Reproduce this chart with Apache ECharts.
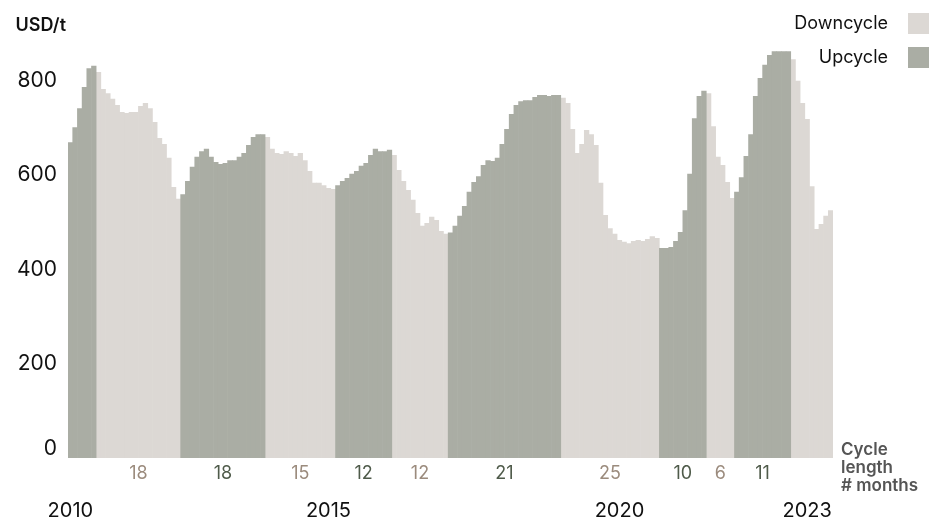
<!DOCTYPE html>
<html>
<head>
<meta charset="utf-8">
<script src="https://cdn.jsdelivr.net/npm/echarts@6/dist/echarts.min.js"></script>
<style>
html,body{margin:0;padding:0;background:#fff;}
#chart{width:944px;height:517px;}
</style>
</head>
<body>
<div id="chart"></div>
<script>
// Price per bar (USD/t)
const values = [
  669, 701, 741, 786, 826, 831,
  818, 782, 773, 761, 748, 733, 731, 733, 733, 746, 752, 741, 712, 678, 665, 636, 574, 549,
  559, 587, 617, 638, 650, 655, 638, 627, 623, 625, 631, 631, 638, 646, 663, 680, 686, 686,
  680, 655, 646, 644, 650, 646, 640, 646, 631, 608, 583, 583, 578, 572, 570,
  578, 587, 593, 602, 608, 619, 625, 642, 655, 650, 650, 653,
  642, 610, 587, 568, 547, 519, 492, 498, 511, 504, 481, 475,
  478, 492, 513, 534, 564, 585, 597, 621, 631, 629, 636, 665, 697, 729, 748, 756, 758, 758, 765, 769, 769, 767, 769, 769,
  763, 752, 697, 646, 665, 695, 686, 663, 583, 515, 487, 475, 462, 458, 455, 460, 462, 460, 464, 470, 466,
  445, 445, 447, 460, 479, 525, 602, 720, 767, 778,
  773, 703, 638, 621, 585, 551,
  564, 595, 640, 686, 767, 805, 833, 854, 862, 862, 862, 862,
  845, 799, 752, 718, 576, 485, 496, 513, 525
];
// Cycle segments
const segmentType = ['up','down','up','down','up','down','up','down','up','down','up','down'];
const segmentBars = [6, 18, 18, 15, 12, 12, 24, 21, 10, 6, 12, 9];
const cycleLabels = [null, '18', '18', '15', '12', '12', '21', '25', '10', '6', '11', null];
// Year tick labels (bar index -> label)
const yearTickIndex = [0, 55, 117, 157];
const yearTickText = ['2010', '2015', '2020', '2023'];
const yTicks = [0, 200, 400, 600, 800];

const categories = values.map((_, i) => 'P' + (i + 1));
const downData = [], upData = [];
const segStart = [];
let pos = 0;
segmentType.forEach((t, s) => {
  const n = segmentBars[s];
  segStart.push(pos);
  for (let k = 0; k < n; k++) {
    const v = values[pos + k];
    downData.push(t === 'down' ? v : null);
    upData.push(t === 'up' ? v : null);
  }
  pos += n;
});

const FONT = 'Inter, "Noto Sans", sans-serif';
const DOWN = '#dcd8d4';
const UP = '#aaada4';
const DOWN_TXT = '#9b8b7d';
const UP_TXT = '#4f5b4a';

const chart = echarts.init(document.getElementById('chart'));
const GRID = { left: 68, right: 111, top: 33.2, bottom: 59, containLabel: false, outerBoundsMode: 'none' };
const catW = (944 - GRID.left - GRID.right) / values.length;

chart.setOption({
  animation: false,
  textStyle: { fontFamily: FONT },
  grid: GRID,
  legend: {
    data: ['Downcycle', 'Upcycle'],
    orient: 'vertical',
    right: 15,
    top: 13,
    padding: 0,
    align: 'right',
    itemWidth: 21,
    itemHeight: 21,
    itemGap: 13,
    icon: 'rect',
    selectedMode: false,
    textStyle: { fontSize: 18, color: '#111', fontFamily: FONT, padding: [0, 15, 0, 0] }
  },
  xAxis: {
    type: 'category',
    data: categories,
    boundaryGap: true,
    axisLine: { show: false },
    axisTick: { show: false },
    axisLabel: {
      interval: (idx) => yearTickIndex.indexOf(idx) >= 0,
      formatter: (v, idx) => {
        const k = yearTickIndex.indexOf(idx);
        return k >= 0 ? yearTickText[k] : '';
      },
      fontSize: 20,
      color: '#111',
      margin: 43,
      fontFamily: FONT
    }
  },
  yAxis: {
    type: 'value',
    min: 0,
    max: 900,
    interval: 200,
    name: 'USD/t',
    nameLocation: 'end',
    nameGap: 8,
    nameTextStyle: { fontSize: 18, fontWeight: 600, color: '#111', align: 'right', verticalAlign: 'middle', padding: [0, 2, 0, 0], fontFamily: FONT },
    splitLine: { show: false },
    axisLine: { show: false },
    axisTick: { show: false },
    axisLabel: {
      showMaxLabel: false,
      fontSize: 21,
      color: '#111',
      margin: 11,
      fontFamily: FONT,
      // the "0" label is drawn a little above the baseline below
      formatter: (v) => (yTicks.indexOf(v) < 0 || v === 0 ? '' : String(v))
    }
  },
  series: [
    {
      name: 'Downcycle',
      type: 'bar',
      data: downData,
      barWidth: catW + 0.6,
      barGap: '-100%',
      itemStyle: { color: DOWN },
      emphasis: { disabled: true }
    },
    {
      name: 'Upcycle',
      type: 'bar',
      data: upData,
      barWidth: catW + 0.6,
      barGap: '-100%',
      itemStyle: { color: UP },
      emphasis: { disabled: true }
    }
  ]
});

// Cycle length labels and the zero tick label, placed through the chart's own scales
const y0 = chart.convertToPixel({ yAxisIndex: 0 }, 0);
const graphics = [];
graphics.push({
  type: 'text',
  x: GRID.left - 11,
  y: y0 - 9,
  style: { text: String(yTicks[0]), fontSize: 21, fill: '#111', fontFamily: FONT, align: 'right', verticalAlign: 'middle' }
});
segmentType.forEach((t, s) => {
  if (!cycleLabels[s]) return;
  const a = chart.convertToPixel({ xAxisIndex: 0 }, categories[segStart[s]]);
  const b = chart.convertToPixel({ xAxisIndex: 0 }, categories[segStart[s] + segmentBars[s] - 1]);
  graphics.push({
    type: 'text',
    x: (a + b) / 2,
    y: y0 + 16,
    style: {
      text: cycleLabels[s],
      fontSize: 18,
      fill: t === 'down' ? DOWN_TXT : UP_TXT,
      fontFamily: FONT,
      align: 'center',
      verticalAlign: 'middle'
    }
  });
});
graphics.push({
  type: 'text',
  left: 841,
  top: 441,
  style: {
    text: 'Cycle\nlength\n# months',
    fontSize: 17,
    fontWeight: 600,
    lineHeight: 18,
    fill: '#555',
    fontFamily: FONT
  }
});
chart.setOption({ graphic: graphics });
</script>
</body>
</html>
